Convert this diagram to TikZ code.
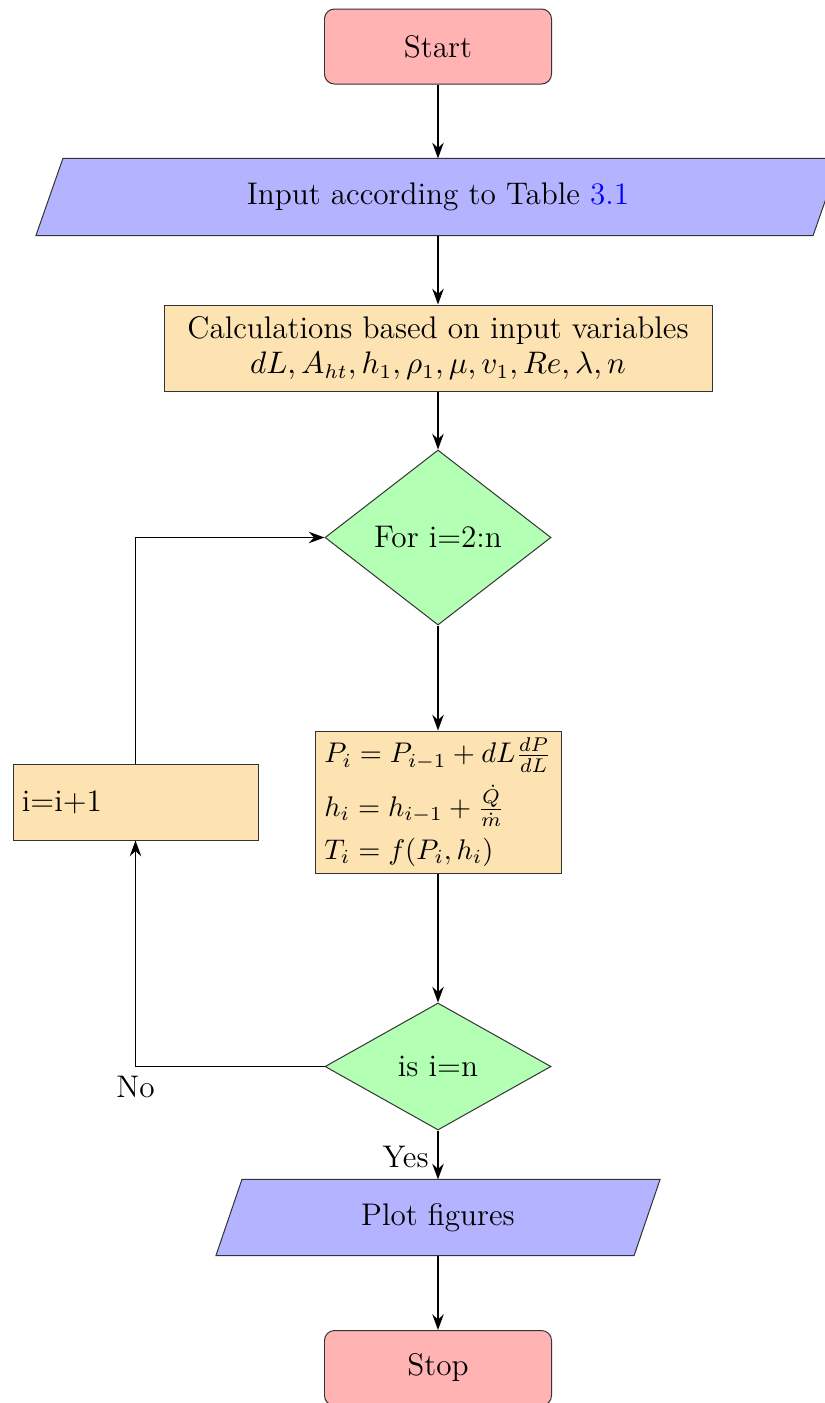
\documentclass[tikz,border=0pt]{standalone}
\usetikzlibrary{arrows.meta,backgrounds,shapes.geometric}

\definecolor{termfill}{RGB}{255,179,179}
\definecolor{iofill}{RGB}{179,179,255}
\definecolor{procfill}{RGB}{253,226,178}
\definecolor{decfill}{RGB}{179,255,179}
\newcommand\pxu{0.352pt}

\tikzset{
  edge/.style={draw=black!80, line width=0.35pt},
  terminal/.style={edge, fill=termfill, rounded corners=3.5pt,
    minimum width={227*\pxu}, minimum height={75*\pxu}, inner sep=0pt},
  iobody/.style={inner sep=0pt},
  procbox/.style={edge, fill=procfill, inner sep=0pt},
  decision/.style={edge, fill=decfill, diamond, inner sep=0pt, aspect=1.3},
  flow/.style={line width=0.65pt, -{Stealth[length=5.5pt,width=4pt]}},
  lbl/.style={inner sep=3pt}
}
% slanted input/output shape drawn behind a named body node
\newcommand\ioshape[2]{%
  \begin{scope}[on background layer]
    \path[edge, fill=iofill]
      ([xshift=#2]#1.north west) -- ([xshift=#2]#1.north east) --
      ([xshift=-#2]#1.south east) -- ([xshift=-#2]#1.south west) -- cycle;
  \end{scope}}

\begin{document}
\begin{tikzpicture}[x=\pxu, y=-\pxu, font=\fontsize{11}{13.6}\selectfont]
\path[use as bounding box, clip] (0,0) rectangle (825,1403);

% nodes
\node[terminal] (start) at (438,46.5) {Start};

\node[iobody, minimum width={776*\pxu}, minimum height={76*\pxu}] (input) at (438,197)
  {Input according to Table \textcolor{blue}{3.1}};
\ioshape{input}{13.5*\pxu}

\node[procbox, minimum width={548*\pxu}, minimum height={86*\pxu}, align=center] (calc) at (438,348)
  {Calculations based on input variables\\[-1pt]
   {\fontsize{10.7}{12}\selectfont$dL{,}\,A_{ht}{,}\,h_1{,}\,\rho_1{,}\,\mu{,}\,v_1{,}\,Re{,}\,\lambda{,}\,n$}};

\node[decision, minimum width={226*\pxu}, minimum height={175*\pxu}] (loop) at (438,537.5) {For i=2:n};

\node[procbox, minimum width={246*\pxu}, minimum height={142*\pxu}, align=left,
      font=\fontsize{10.4}{12.5}\selectfont] (step) at (438,802)
  {$P_i = P_{i-1} + dL\frac{dP}{dL}$\\[3.5pt]
   $h_i = h_{i-1} + \frac{\dot Q}{\dot m}$\\[2.5pt]
   $T_i = f(P_i, h_i)$};

\node[procbox, minimum width={245*\pxu}, minimum height={76*\pxu}, text width={227*\pxu}, align=left] (incr) at (135.5,802) {i=i+1};

\node[decision, minimum width={226*\pxu}, minimum height={127*\pxu}] (check) at (438,1066.5) {is i=n};

\node[iobody, minimum width={417*\pxu}, minimum height={75*\pxu}] (plot) at (438,1217.5) {Plot figures};
\ioshape{plot}{13*\pxu}

\node[terminal] (stop) at (438,1368) {Stop};

% connectors
\draw[flow] (start) -- (input);
\draw[flow] (input) -- (calc);
\draw[flow] (calc) -- (loop);
\draw[flow] (loop) -- (step);
\draw[flow] (step) -- (check);
\draw[flow] (check.west) -| node[pos=0.5, below, lbl] {No} (incr.south);
\draw[flow] (incr.north) |- (loop.west);
\draw[flow] (check) -- node[left, lbl, pos=0.55] {Yes} (plot);
\draw[flow] (plot) -- (stop);
\end{tikzpicture}
\end{document}
